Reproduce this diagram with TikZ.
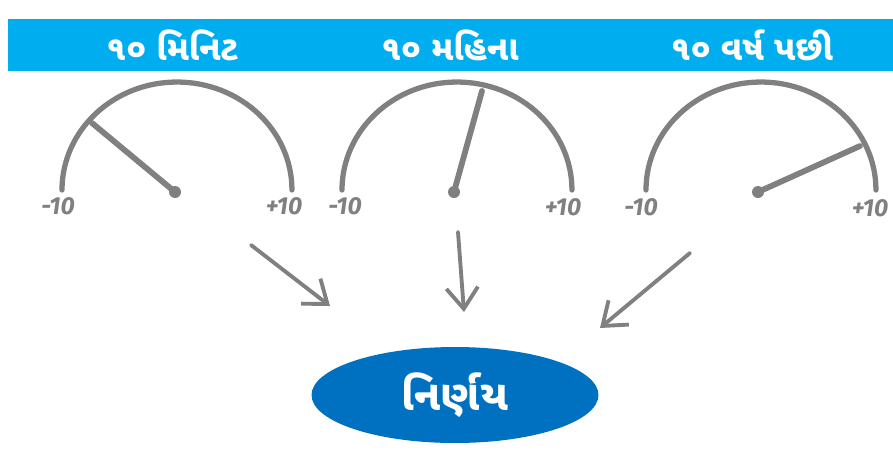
\documentclass[tikz,border=0pt]{standalone}
\usepackage{fontspec}
\usepackage{tikz}
\usepackage{xcolor}
\usetikzlibrary{positioning, arrows.meta, shapes.geometric}
\newfontfamily\gujfont[Script=Gujarati]{Noto Sans Gujarati UI}
\newfontfamily\dialfont{Fira Sans}
\definecolor{bannerblue}{RGB}{0, 174, 239}
\definecolor{decideblue}{RGB}{0, 112, 192}
\definecolor{dialgray}{RGB}{128, 128, 128}

\begin{document}
\begin{tikzpicture}[
    x=0.02cm, y=-0.02cm,
    heading/.style={
      text=white,
      font=\gujfont\bfseries\fontsize{19.5}{22}\selectfont
    },
    dial/.style={draw=dialgray, line width=3pt, line cap=round},
    needle/.style={draw=dialgray, line width=3.3pt, line cap=round},
    scalelabel/.style={text=dialgray, font=\dialfont\bfseries\itshape\fontsize{14}{15}\selectfont},
    arrow/.style={-{Straight Barb[length=12pt, width=18pt, line width=2.2pt]}, draw=dialgray, line width=2.2pt, line cap=round},
    decision/.style={
      ellipse,
      fill=decideblue,
      minimum width=5.74cm,
      minimum height=1.92cm,
      text=white,
      font=\gujfont\bfseries\fontsize{24}{28}\selectfont
    }
  ]
    \useasboundingbox (0,0) rectangle (893,464);
    \fill[bannerblue] (8,19) rectangle (893,71);

    \node[heading] (minutes) at (172,45) {૧૦ મિનિટ};
    \node[heading] (months) at (450,45) {૧૦ મહિના};
    \node[heading] (years) at (752,45) {૧૦ વર્ષ પછી};

    % dial one
    \coordinate (hubA) at (175,192);
    \coordinate (tipA) at (92,123);
    \draw[dial] (62,190) arc[start angle=180, end angle=0, x radius=2.3cm, y radius=2.16cm];
    \draw[needle] (hubA) -- (tipA);
    \fill[dialgray] (hubA) circle[radius=6];
    \node[scalelabel] (lowA) at (58,206) {-10};
    \node[scalelabel] (highA) at (284,206) {+10};

    % dial two
    \coordinate (hubB) at (454,192);
    \coordinate (tipB) at (482,91);
    \draw[dial] (342,190) arc[start angle=180, end angle=0, x radius=2.3cm, y radius=2.16cm];
    \draw[needle] (hubB) -- (tipB);
    \fill[dialgray] (hubB) circle[radius=6];
    \node[scalelabel] (lowB) at (345,206) {-10};
    \node[scalelabel] (highB) at (563,207) {+10};

    % dial three
    \coordinate (hubC) at (758,192);
    \coordinate (tipC) at (860,146);
    \draw[dial] (646,190) arc[start angle=180, end angle=0, x radius=2.3cm, y radius=2.16cm];
    \draw[needle] (hubC) -- (tipC);
    \fill[dialgray] (hubC) circle[radius=6];
    \node[scalelabel] (lowC) at (641,207) {-10};
    \node[scalelabel] (highC) at (870,208) {+10};

    \node[decision] (decide) at (455,395) {નિર્ણય};

    \coordinate (fromA) at (251,245);
    \coordinate (toA) at (330,306);
    \coordinate (fromB) at (458,232);
    \coordinate (toB) at (464,312);
    \coordinate (fromC) at (690,253);
    \coordinate (toC) at (600,328);
    \draw[arrow] (fromA) -- (toA);
    \draw[arrow] (fromB) -- (toB);
    \draw[arrow] (fromC) -- (toC);
  \end{tikzpicture}
\end{document}
